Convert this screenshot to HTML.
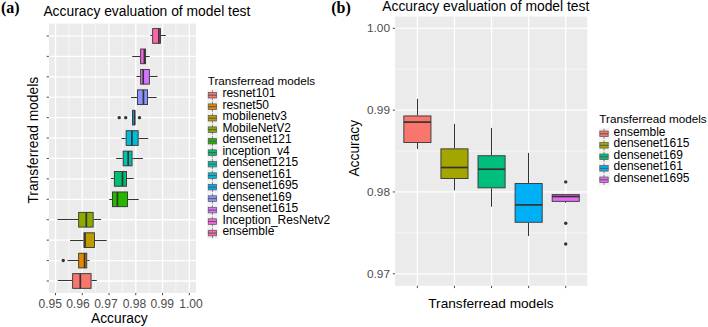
<!DOCTYPE html>
<html><head><meta charset="utf-8"><style>
html,body{margin:0;padding:0;background:#fff;}
body{width:708px;height:327px;overflow:hidden;font-family:"Liberation Sans",sans-serif;}
svg{display:block;}
</style></head><body>
<svg width="708" height="327" viewBox="0 0 708 327">
<rect width="708" height="327" fill="#fff"/>
<rect x="48.9" y="23.6" width="147.10" height="269.30" fill="#EBEBEB"/>
<line x1="68.88" y1="23.6" x2="68.88" y2="292.9" stroke="#F6F6F6" stroke-width="1.0"/>
<line x1="95.64" y1="23.6" x2="95.64" y2="292.9" stroke="#F6F6F6" stroke-width="1.0"/>
<line x1="122.40" y1="23.6" x2="122.40" y2="292.9" stroke="#F6F6F6" stroke-width="1.0"/>
<line x1="149.16" y1="23.6" x2="149.16" y2="292.9" stroke="#F6F6F6" stroke-width="1.0"/>
<line x1="175.92" y1="23.6" x2="175.92" y2="292.9" stroke="#F6F6F6" stroke-width="1.0"/>
<line x1="48.9" y1="35.95" x2="196.0" y2="35.95" stroke="#FFFFFF" stroke-width="1.3"/>
<line x1="48.9" y1="56.37" x2="196.0" y2="56.37" stroke="#FFFFFF" stroke-width="1.3"/>
<line x1="48.9" y1="76.79" x2="196.0" y2="76.79" stroke="#FFFFFF" stroke-width="1.3"/>
<line x1="48.9" y1="97.21" x2="196.0" y2="97.21" stroke="#FFFFFF" stroke-width="1.3"/>
<line x1="48.9" y1="117.63" x2="196.0" y2="117.63" stroke="#FFFFFF" stroke-width="1.3"/>
<line x1="48.9" y1="138.05" x2="196.0" y2="138.05" stroke="#FFFFFF" stroke-width="1.3"/>
<line x1="48.9" y1="158.47" x2="196.0" y2="158.47" stroke="#FFFFFF" stroke-width="1.3"/>
<line x1="48.9" y1="178.89" x2="196.0" y2="178.89" stroke="#FFFFFF" stroke-width="1.3"/>
<line x1="48.9" y1="199.31" x2="196.0" y2="199.31" stroke="#FFFFFF" stroke-width="1.3"/>
<line x1="48.9" y1="219.73" x2="196.0" y2="219.73" stroke="#FFFFFF" stroke-width="1.3"/>
<line x1="48.9" y1="240.15" x2="196.0" y2="240.15" stroke="#FFFFFF" stroke-width="1.3"/>
<line x1="48.9" y1="260.57" x2="196.0" y2="260.57" stroke="#FFFFFF" stroke-width="1.3"/>
<line x1="48.9" y1="280.99" x2="196.0" y2="280.99" stroke="#FFFFFF" stroke-width="1.3"/>
<line x1="55.50" y1="23.6" x2="55.50" y2="292.9" stroke="#FFFFFF" stroke-width="1.3"/>
<line x1="82.26" y1="23.6" x2="82.26" y2="292.9" stroke="#FFFFFF" stroke-width="1.3"/>
<line x1="109.02" y1="23.6" x2="109.02" y2="292.9" stroke="#FFFFFF" stroke-width="1.3"/>
<line x1="135.78" y1="23.6" x2="135.78" y2="292.9" stroke="#FFFFFF" stroke-width="1.3"/>
<line x1="162.54" y1="23.6" x2="162.54" y2="292.9" stroke="#FFFFFF" stroke-width="1.3"/>
<line x1="189.30" y1="23.6" x2="189.30" y2="292.9" stroke="#FFFFFF" stroke-width="1.3"/>
<line x1="150.3" y1="35.50" x2="152.2" y2="35.50" stroke="#333333" stroke-width="1"/>
<line x1="161.0" y1="35.50" x2="165.8" y2="35.50" stroke="#333333" stroke-width="1"/>
<rect x="152.65" y="28.60" width="7.90" height="14.70" fill="#FF65AC" stroke="#333333" stroke-width="0.9"/>
<line x1="158.9" y1="28.60" x2="158.9" y2="43.30" stroke="#333333" stroke-width="1.7"/>
<line x1="132.2" y1="56.50" x2="140.2" y2="56.50" stroke="#333333" stroke-width="1"/>
<line x1="145.9" y1="56.50" x2="149.7" y2="56.50" stroke="#333333" stroke-width="1"/>
<rect x="140.65" y="49.02" width="4.80" height="14.70" fill="#F962DD" stroke="#333333" stroke-width="0.9"/>
<line x1="144.4" y1="49.02" x2="144.4" y2="63.72" stroke="#333333" stroke-width="1.7"/>
<line x1="136.5" y1="76.50" x2="140.2" y2="76.50" stroke="#333333" stroke-width="1"/>
<line x1="149.8" y1="76.50" x2="157.6" y2="76.50" stroke="#333333" stroke-width="1"/>
<rect x="140.65" y="69.44" width="8.70" height="14.70" fill="#D575FE" stroke="#333333" stroke-width="0.9"/>
<line x1="143.2" y1="69.44" x2="143.2" y2="84.14" stroke="#333333" stroke-width="1.7"/>
<line x1="131.0" y1="97.50" x2="137.1" y2="97.50" stroke="#333333" stroke-width="1"/>
<line x1="148.0" y1="97.50" x2="156.7" y2="97.50" stroke="#333333" stroke-width="1"/>
<rect x="137.55" y="89.86" width="10.00" height="14.70" fill="#8B93FF" stroke="#333333" stroke-width="0.9"/>
<line x1="143.4" y1="89.86" x2="143.4" y2="104.56" stroke="#333333" stroke-width="1.7"/>
<line x1="133.6" y1="117.50" x2="132.1" y2="117.50" stroke="#333333" stroke-width="1"/>
<line x1="135.2" y1="117.50" x2="133.6" y2="117.50" stroke="#333333" stroke-width="1"/>
<rect x="132.55" y="110.28" width="2.20" height="14.70" fill="#00ACFC" stroke="#333333" stroke-width="0.9"/>
<line x1="134.6" y1="110.28" x2="134.6" y2="124.98" stroke="#333333" stroke-width="1.7"/>
<circle cx="119.2" cy="117.63" r="1.7" fill="#333333"/>
<circle cx="125.7" cy="117.63" r="1.7" fill="#333333"/>
<circle cx="139.5" cy="117.63" r="1.7" fill="#333333"/>
<line x1="121.5" y1="138.50" x2="125.7" y2="138.50" stroke="#333333" stroke-width="1"/>
<line x1="138.6" y1="138.50" x2="148.2" y2="138.50" stroke="#333333" stroke-width="1"/>
<rect x="126.15" y="130.70" width="12.00" height="14.70" fill="#00BBDA" stroke="#333333" stroke-width="0.9"/>
<line x1="131.9" y1="130.70" x2="131.9" y2="145.40" stroke="#333333" stroke-width="1.7"/>
<line x1="116.2" y1="158.50" x2="122.7" y2="158.50" stroke="#333333" stroke-width="1"/>
<line x1="132.5" y1="158.50" x2="142.9" y2="158.50" stroke="#333333" stroke-width="1"/>
<rect x="123.15" y="151.12" width="8.90" height="14.70" fill="#00C1AB" stroke="#333333" stroke-width="0.9"/>
<line x1="128.2" y1="151.12" x2="128.2" y2="165.82" stroke="#333333" stroke-width="1.7"/>
<line x1="110.9" y1="178.50" x2="113.9" y2="178.50" stroke="#333333" stroke-width="1"/>
<line x1="127.0" y1="178.50" x2="133.7" y2="178.50" stroke="#333333" stroke-width="1"/>
<rect x="114.35" y="171.54" width="12.20" height="14.70" fill="#00BE70" stroke="#333333" stroke-width="0.9"/>
<line x1="122.5" y1="171.54" x2="122.5" y2="186.24" stroke="#333333" stroke-width="1.7"/>
<line x1="109.2" y1="199.50" x2="112.0" y2="199.50" stroke="#333333" stroke-width="1"/>
<line x1="127.9" y1="199.50" x2="138.8" y2="199.50" stroke="#333333" stroke-width="1"/>
<rect x="112.45" y="191.96" width="15.00" height="14.70" fill="#24B700" stroke="#333333" stroke-width="0.9"/>
<line x1="117.4" y1="191.96" x2="117.4" y2="206.66" stroke="#333333" stroke-width="1.7"/>
<line x1="57.4" y1="219.50" x2="78.2" y2="219.50" stroke="#333333" stroke-width="1"/>
<line x1="93.6" y1="219.50" x2="101.1" y2="219.50" stroke="#333333" stroke-width="1"/>
<rect x="78.65" y="212.38" width="14.50" height="14.70" fill="#8CAB00" stroke="#333333" stroke-width="0.9"/>
<line x1="86.3" y1="212.38" x2="86.3" y2="227.08" stroke="#333333" stroke-width="1.7"/>
<line x1="70.1" y1="240.50" x2="83.5" y2="240.50" stroke="#333333" stroke-width="1"/>
<line x1="94.9" y1="240.50" x2="106.7" y2="240.50" stroke="#333333" stroke-width="1"/>
<rect x="83.95" y="232.80" width="10.50" height="14.70" fill="#BE9C00" stroke="#333333" stroke-width="0.9"/>
<line x1="85.0" y1="232.80" x2="85.0" y2="247.50" stroke="#333333" stroke-width="1.7"/>
<line x1="67.5" y1="260.50" x2="78.2" y2="260.50" stroke="#333333" stroke-width="1"/>
<line x1="87.2" y1="260.50" x2="89.5" y2="260.50" stroke="#333333" stroke-width="1"/>
<rect x="78.65" y="253.22" width="8.10" height="14.70" fill="#E18A00" stroke="#333333" stroke-width="0.9"/>
<line x1="84.6" y1="253.22" x2="84.6" y2="267.92" stroke="#333333" stroke-width="1.7"/>
<circle cx="63.2" cy="260.57" r="1.7" fill="#333333"/>
<line x1="57.8" y1="280.50" x2="72.2" y2="280.50" stroke="#333333" stroke-width="1"/>
<line x1="91.5" y1="280.50" x2="96.8" y2="280.50" stroke="#333333" stroke-width="1"/>
<rect x="72.65" y="273.64" width="18.40" height="14.70" fill="#F8766D" stroke="#333333" stroke-width="0.9"/>
<line x1="80.3" y1="273.64" x2="80.3" y2="288.34" stroke="#333333" stroke-width="1.7"/>
<line x1="46.699999999999996" y1="35.95" x2="48.9" y2="35.95" stroke="#333333" stroke-width="0.9"/>
<line x1="46.699999999999996" y1="56.37" x2="48.9" y2="56.37" stroke="#333333" stroke-width="0.9"/>
<line x1="46.699999999999996" y1="76.79" x2="48.9" y2="76.79" stroke="#333333" stroke-width="0.9"/>
<line x1="46.699999999999996" y1="97.21" x2="48.9" y2="97.21" stroke="#333333" stroke-width="0.9"/>
<line x1="46.699999999999996" y1="117.63" x2="48.9" y2="117.63" stroke="#333333" stroke-width="0.9"/>
<line x1="46.699999999999996" y1="138.05" x2="48.9" y2="138.05" stroke="#333333" stroke-width="0.9"/>
<line x1="46.699999999999996" y1="158.47" x2="48.9" y2="158.47" stroke="#333333" stroke-width="0.9"/>
<line x1="46.699999999999996" y1="178.89" x2="48.9" y2="178.89" stroke="#333333" stroke-width="0.9"/>
<line x1="46.699999999999996" y1="199.31" x2="48.9" y2="199.31" stroke="#333333" stroke-width="0.9"/>
<line x1="46.699999999999996" y1="219.73" x2="48.9" y2="219.73" stroke="#333333" stroke-width="0.9"/>
<line x1="46.699999999999996" y1="240.15" x2="48.9" y2="240.15" stroke="#333333" stroke-width="0.9"/>
<line x1="46.699999999999996" y1="260.57" x2="48.9" y2="260.57" stroke="#333333" stroke-width="0.9"/>
<line x1="46.699999999999996" y1="280.99" x2="48.9" y2="280.99" stroke="#333333" stroke-width="0.9"/>
<line x1="55.50" y1="292.9" x2="55.50" y2="295.2" stroke="#333333" stroke-width="0.9"/>
<line x1="82.26" y1="292.9" x2="82.26" y2="295.2" stroke="#333333" stroke-width="0.9"/>
<line x1="109.02" y1="292.9" x2="109.02" y2="295.2" stroke="#333333" stroke-width="0.9"/>
<line x1="135.78" y1="292.9" x2="135.78" y2="295.2" stroke="#333333" stroke-width="0.9"/>
<line x1="162.54" y1="292.9" x2="162.54" y2="295.2" stroke="#333333" stroke-width="0.9"/>
<line x1="189.30" y1="292.9" x2="189.30" y2="295.2" stroke="#333333" stroke-width="0.9"/>
<text x="50.3" y="307.7" text-anchor="middle" font-family="Liberation Sans, sans-serif" font-size="12.1" fill="#4D4D4D">0.95</text>
<text x="77.9" y="307.7" text-anchor="middle" font-family="Liberation Sans, sans-serif" font-size="12.1" fill="#4D4D4D">0.96</text>
<text x="105.9" y="307.7" text-anchor="middle" font-family="Liberation Sans, sans-serif" font-size="12.1" fill="#4D4D4D">0.97</text>
<text x="134.4" y="307.7" text-anchor="middle" font-family="Liberation Sans, sans-serif" font-size="12.1" fill="#4D4D4D">0.98</text>
<text x="162.3" y="307.7" text-anchor="middle" font-family="Liberation Sans, sans-serif" font-size="12.1" fill="#4D4D4D">0.99</text>
<text x="191.0" y="307.7" text-anchor="middle" font-family="Liberation Sans, sans-serif" font-size="12.1" fill="#4D4D4D">1.00</text>
<text x="91.0" y="322.7" font-family="Liberation Sans, sans-serif" font-size="13.8" fill="#000">Accuracy</text>
<text transform="translate(38.2,203.6) rotate(-90) scale(1,1.08)" font-family="Liberation Sans, sans-serif" font-size="13.8" fill="#000">Transferread models</text>
<text x="43.4" y="16.0" font-family="Liberation Sans, sans-serif" font-size="13.85" fill="#000">Accuracy evaluation of model test</text>
<text x="1.0" y="12.8" font-family="Liberation Serif, serif" font-weight="bold" font-size="16" fill="#000">(a)</text>
<text x="207.7" y="84.6" font-family="Liberation Sans, sans-serif" font-size="11.7" fill="#000">Transferread models</text>
<rect x="207.3" y="89.5" width="11" height="149.3" fill="#F2F2F2"/>
<line x1="212.40" y1="90.20" x2="212.40" y2="100.20" stroke="#555" stroke-width="0.7"/>
<rect x="208.20" y="92.40" width="8.4" height="5.6" fill="#F8766D" stroke="#555" stroke-width="0.7"/>
<line x1="208.20" y1="95.20" x2="216.60" y2="95.20" stroke="#555" stroke-width="1.0"/>
<text x="222.4" y="97.20" font-family="Liberation Sans, sans-serif" font-size="11.98" fill="#000">resnet101</text>
<line x1="212.40" y1="101.69" x2="212.40" y2="111.69" stroke="#555" stroke-width="0.7"/>
<rect x="208.20" y="103.89" width="8.4" height="5.6" fill="#E18A00" stroke="#555" stroke-width="0.7"/>
<line x1="208.20" y1="106.69" x2="216.60" y2="106.69" stroke="#555" stroke-width="1.0"/>
<text x="222.4" y="108.69" font-family="Liberation Sans, sans-serif" font-size="11.98" fill="#000">resnet50</text>
<line x1="212.40" y1="113.18" x2="212.40" y2="123.18" stroke="#555" stroke-width="0.7"/>
<rect x="208.20" y="115.38" width="8.4" height="5.6" fill="#BE9C00" stroke="#555" stroke-width="0.7"/>
<line x1="208.20" y1="118.18" x2="216.60" y2="118.18" stroke="#555" stroke-width="1.0"/>
<text x="222.4" y="120.18" font-family="Liberation Sans, sans-serif" font-size="11.98" fill="#000">mobilenetv3</text>
<line x1="212.40" y1="124.67" x2="212.40" y2="134.67" stroke="#555" stroke-width="0.7"/>
<rect x="208.20" y="126.87" width="8.4" height="5.6" fill="#8CAB00" stroke="#555" stroke-width="0.7"/>
<line x1="208.20" y1="129.67" x2="216.60" y2="129.67" stroke="#555" stroke-width="1.0"/>
<text x="222.4" y="131.67" font-family="Liberation Sans, sans-serif" font-size="11.98" fill="#000">MobileNetV2</text>
<line x1="212.40" y1="136.16" x2="212.40" y2="146.16" stroke="#555" stroke-width="0.7"/>
<rect x="208.20" y="138.36" width="8.4" height="5.6" fill="#24B700" stroke="#555" stroke-width="0.7"/>
<line x1="208.20" y1="141.16" x2="216.60" y2="141.16" stroke="#555" stroke-width="1.0"/>
<text x="222.4" y="143.16" font-family="Liberation Sans, sans-serif" font-size="11.98" fill="#000">densenet121</text>
<line x1="212.40" y1="147.65" x2="212.40" y2="157.65" stroke="#555" stroke-width="0.7"/>
<rect x="208.20" y="149.85" width="8.4" height="5.6" fill="#00BE70" stroke="#555" stroke-width="0.7"/>
<line x1="208.20" y1="152.65" x2="216.60" y2="152.65" stroke="#555" stroke-width="1.0"/>
<text x="222.4" y="154.65" font-family="Liberation Sans, sans-serif" font-size="11.98" fill="#000">inception_v4</text>
<line x1="212.40" y1="159.14" x2="212.40" y2="169.14" stroke="#555" stroke-width="0.7"/>
<rect x="208.20" y="161.34" width="8.4" height="5.6" fill="#00C1AB" stroke="#555" stroke-width="0.7"/>
<line x1="208.20" y1="164.14" x2="216.60" y2="164.14" stroke="#555" stroke-width="1.0"/>
<text x="222.4" y="166.14" font-family="Liberation Sans, sans-serif" font-size="11.98" fill="#000">densenet1215</text>
<line x1="212.40" y1="170.63" x2="212.40" y2="180.63" stroke="#555" stroke-width="0.7"/>
<rect x="208.20" y="172.83" width="8.4" height="5.6" fill="#00BBDA" stroke="#555" stroke-width="0.7"/>
<line x1="208.20" y1="175.63" x2="216.60" y2="175.63" stroke="#555" stroke-width="1.0"/>
<text x="222.4" y="177.63" font-family="Liberation Sans, sans-serif" font-size="11.98" fill="#000">densenet161</text>
<line x1="212.40" y1="182.12" x2="212.40" y2="192.12" stroke="#555" stroke-width="0.7"/>
<rect x="208.20" y="184.32" width="8.4" height="5.6" fill="#00ACFC" stroke="#555" stroke-width="0.7"/>
<line x1="208.20" y1="187.12" x2="216.60" y2="187.12" stroke="#555" stroke-width="1.0"/>
<text x="222.4" y="189.12" font-family="Liberation Sans, sans-serif" font-size="11.98" fill="#000">densenet1695</text>
<line x1="212.40" y1="193.61" x2="212.40" y2="203.61" stroke="#555" stroke-width="0.7"/>
<rect x="208.20" y="195.81" width="8.4" height="5.6" fill="#8B93FF" stroke="#555" stroke-width="0.7"/>
<line x1="208.20" y1="198.61" x2="216.60" y2="198.61" stroke="#555" stroke-width="1.0"/>
<text x="222.4" y="200.61" font-family="Liberation Sans, sans-serif" font-size="11.98" fill="#000">densenet169</text>
<line x1="212.40" y1="205.10" x2="212.40" y2="215.10" stroke="#555" stroke-width="0.7"/>
<rect x="208.20" y="207.30" width="8.4" height="5.6" fill="#D575FE" stroke="#555" stroke-width="0.7"/>
<line x1="208.20" y1="210.10" x2="216.60" y2="210.10" stroke="#555" stroke-width="1.0"/>
<text x="222.4" y="212.10" font-family="Liberation Sans, sans-serif" font-size="11.98" fill="#000">densenet1615</text>
<line x1="212.40" y1="216.59" x2="212.40" y2="226.59" stroke="#555" stroke-width="0.7"/>
<rect x="208.20" y="218.79" width="8.4" height="5.6" fill="#F962DD" stroke="#555" stroke-width="0.7"/>
<line x1="208.20" y1="221.59" x2="216.60" y2="221.59" stroke="#555" stroke-width="1.0"/>
<text x="222.4" y="223.59" font-family="Liberation Sans, sans-serif" font-size="11.98" fill="#000">Inception_ResNetv2</text>
<line x1="212.40" y1="228.08" x2="212.40" y2="238.08" stroke="#555" stroke-width="0.7"/>
<rect x="208.20" y="230.28" width="8.4" height="5.6" fill="#FF65AC" stroke="#555" stroke-width="0.7"/>
<line x1="208.20" y1="233.08" x2="216.60" y2="233.08" stroke="#555" stroke-width="1.0"/>
<text x="222.4" y="235.08" font-family="Liberation Sans, sans-serif" font-size="11.98" fill="#000">ensemble</text>
<rect x="395.0" y="16.5" width="192.30" height="269.30" fill="#EBEBEB"/>
<line x1="395.0" y1="69.22" x2="587.3" y2="69.22" stroke="#F6F6F6" stroke-width="1.0"/>
<line x1="395.0" y1="151.05" x2="587.3" y2="151.05" stroke="#F6F6F6" stroke-width="1.0"/>
<line x1="395.0" y1="232.88" x2="587.3" y2="232.88" stroke="#F6F6F6" stroke-width="1.0"/>
<line x1="395.0" y1="28.30" x2="587.3" y2="28.30" stroke="#FFFFFF" stroke-width="1.3"/>
<line x1="395.0" y1="110.13" x2="587.3" y2="110.13" stroke="#FFFFFF" stroke-width="1.3"/>
<line x1="395.0" y1="191.96" x2="587.3" y2="191.96" stroke="#FFFFFF" stroke-width="1.3"/>
<line x1="395.0" y1="273.79" x2="587.3" y2="273.79" stroke="#FFFFFF" stroke-width="1.3"/>
<line x1="417.40" y1="16.5" x2="417.40" y2="285.8" stroke="#FFFFFF" stroke-width="1.3"/>
<line x1="454.48" y1="16.5" x2="454.48" y2="285.8" stroke="#FFFFFF" stroke-width="1.3"/>
<line x1="491.56" y1="16.5" x2="491.56" y2="285.8" stroke="#FFFFFF" stroke-width="1.3"/>
<line x1="528.64" y1="16.5" x2="528.64" y2="285.8" stroke="#FFFFFF" stroke-width="1.3"/>
<line x1="565.72" y1="16.5" x2="565.72" y2="285.8" stroke="#FFFFFF" stroke-width="1.3"/>
<line x1="417.50" y1="98.8" x2="417.50" y2="115.5" stroke="#333333" stroke-width="1"/>
<line x1="417.50" y1="142.9" x2="417.50" y2="149.0" stroke="#333333" stroke-width="1"/>
<rect x="403.85" y="115.95" width="27.10" height="26.50" fill="#F8766D" stroke="#333333" stroke-width="0.9"/>
<line x1="403.85" y1="122.1" x2="430.95" y2="122.1" stroke="#333333" stroke-width="1.7"/>
<line x1="454.50" y1="123.9" x2="454.50" y2="148.4" stroke="#333333" stroke-width="1"/>
<line x1="454.50" y1="179.0" x2="454.50" y2="190.3" stroke="#333333" stroke-width="1"/>
<rect x="440.93" y="148.85" width="27.10" height="29.70" fill="#A3A500" stroke="#333333" stroke-width="0.9"/>
<line x1="440.93" y1="167.5" x2="468.03" y2="167.5" stroke="#333333" stroke-width="1.7"/>
<line x1="491.50" y1="127.9" x2="491.50" y2="155.3" stroke="#333333" stroke-width="1"/>
<line x1="491.50" y1="188.3" x2="491.50" y2="206.7" stroke="#333333" stroke-width="1"/>
<rect x="478.01" y="155.75" width="27.10" height="32.10" fill="#00BF7D" stroke="#333333" stroke-width="0.9"/>
<line x1="478.01" y1="169.2" x2="505.11" y2="169.2" stroke="#333333" stroke-width="1.7"/>
<line x1="528.50" y1="152.9" x2="528.50" y2="183.1" stroke="#333333" stroke-width="1"/>
<line x1="528.50" y1="222.7" x2="528.50" y2="236.0" stroke="#333333" stroke-width="1"/>
<rect x="515.09" y="183.55" width="27.10" height="38.70" fill="#00B0F6" stroke="#333333" stroke-width="0.9"/>
<line x1="515.09" y1="204.9" x2="542.19" y2="204.9" stroke="#333333" stroke-width="1.7"/>
<line x1="565.50" y1="201.8" x2="565.50" y2="202.8" stroke="#333333" stroke-width="1"/>
<rect x="552.17" y="194.65" width="27.10" height="6.70" fill="#E76BF3" stroke="#333333" stroke-width="0.9"/>
<line x1="552.17" y1="196.5" x2="579.27" y2="196.5" stroke="#333333" stroke-width="1.7"/>
<circle cx="565.72" cy="181.9" r="1.7" fill="#333333"/>
<circle cx="565.72" cy="223.2" r="1.7" fill="#333333"/>
<circle cx="565.72" cy="244.0" r="1.7" fill="#333333"/>
<line x1="392.8" y1="28.30" x2="395.0" y2="28.30" stroke="#333333" stroke-width="0.9"/>
<text x="390.0" y="32.40" text-anchor="end" font-family="Liberation Sans, sans-serif" font-size="11.8" fill="#4D4D4D">1.00</text>
<line x1="392.8" y1="110.13" x2="395.0" y2="110.13" stroke="#333333" stroke-width="0.9"/>
<text x="390.0" y="114.23" text-anchor="end" font-family="Liberation Sans, sans-serif" font-size="11.8" fill="#4D4D4D">0.99</text>
<line x1="392.8" y1="191.96" x2="395.0" y2="191.96" stroke="#333333" stroke-width="0.9"/>
<text x="390.0" y="196.06" text-anchor="end" font-family="Liberation Sans, sans-serif" font-size="11.8" fill="#4D4D4D">0.98</text>
<line x1="392.8" y1="273.79" x2="395.0" y2="273.79" stroke="#333333" stroke-width="0.9"/>
<text x="390.0" y="277.89" text-anchor="end" font-family="Liberation Sans, sans-serif" font-size="11.8" fill="#4D4D4D">0.97</text>
<line x1="417.40" y1="285.8" x2="417.40" y2="288.1" stroke="#333333" stroke-width="0.9"/>
<line x1="454.48" y1="285.8" x2="454.48" y2="288.1" stroke="#333333" stroke-width="0.9"/>
<line x1="491.56" y1="285.8" x2="491.56" y2="288.1" stroke="#333333" stroke-width="0.9"/>
<line x1="528.64" y1="285.8" x2="528.64" y2="288.1" stroke="#333333" stroke-width="0.9"/>
<line x1="565.72" y1="285.8" x2="565.72" y2="288.1" stroke="#333333" stroke-width="0.9"/>
<text x="428.3" y="308.4" font-family="Liberation Sans, sans-serif" font-size="13.65" fill="#000">Transferread models</text>
<text transform="translate(358.5,176.6) rotate(-90) scale(1,1.1)" font-family="Liberation Sans, sans-serif" font-size="13.8" fill="#000">Accuracy</text>
<text x="382.3" y="11.1" font-family="Liberation Sans, sans-serif" font-size="13.85" fill="#000">Accuracy evaluation of model test</text>
<text x="331.2" y="12.8" font-family="Liberation Serif, serif" font-weight="bold" font-size="16" fill="#000">(b)</text>
<text x="599.3" y="123.2" font-family="Liberation Sans, sans-serif" font-size="11.7" fill="#000">Transferread models</text>
<rect x="598.9" y="128.0" width="11" height="57.5" fill="#F2F2F2"/>
<line x1="604.00" y1="128.80" x2="604.00" y2="138.80" stroke="#555" stroke-width="0.7"/>
<rect x="599.80" y="131.00" width="8.4" height="5.6" fill="#F8766D" stroke="#555" stroke-width="0.7"/>
<line x1="599.80" y1="133.80" x2="608.20" y2="133.80" stroke="#555" stroke-width="1.0"/>
<text x="613.6" y="135.80" font-family="Liberation Sans, sans-serif" font-size="11.98" fill="#000">ensemble</text>
<line x1="604.00" y1="140.30" x2="604.00" y2="150.30" stroke="#555" stroke-width="0.7"/>
<rect x="599.80" y="142.50" width="8.4" height="5.6" fill="#A3A500" stroke="#555" stroke-width="0.7"/>
<line x1="599.80" y1="145.30" x2="608.20" y2="145.30" stroke="#555" stroke-width="1.0"/>
<text x="613.6" y="147.30" font-family="Liberation Sans, sans-serif" font-size="11.98" fill="#000">densenet1615</text>
<line x1="604.00" y1="151.80" x2="604.00" y2="161.80" stroke="#555" stroke-width="0.7"/>
<rect x="599.80" y="154.00" width="8.4" height="5.6" fill="#00BF7D" stroke="#555" stroke-width="0.7"/>
<line x1="599.80" y1="156.80" x2="608.20" y2="156.80" stroke="#555" stroke-width="1.0"/>
<text x="613.6" y="158.80" font-family="Liberation Sans, sans-serif" font-size="11.98" fill="#000">densenet169</text>
<line x1="604.00" y1="163.30" x2="604.00" y2="173.30" stroke="#555" stroke-width="0.7"/>
<rect x="599.80" y="165.50" width="8.4" height="5.6" fill="#00B0F6" stroke="#555" stroke-width="0.7"/>
<line x1="599.80" y1="168.30" x2="608.20" y2="168.30" stroke="#555" stroke-width="1.0"/>
<text x="613.6" y="170.30" font-family="Liberation Sans, sans-serif" font-size="11.98" fill="#000">densenet161</text>
<line x1="604.00" y1="174.80" x2="604.00" y2="184.80" stroke="#555" stroke-width="0.7"/>
<rect x="599.80" y="177.00" width="8.4" height="5.6" fill="#E76BF3" stroke="#555" stroke-width="0.7"/>
<line x1="599.80" y1="179.80" x2="608.20" y2="179.80" stroke="#555" stroke-width="1.0"/>
<text x="613.6" y="181.80" font-family="Liberation Sans, sans-serif" font-size="11.98" fill="#000">densenet1695</text>
</svg>
</body></html>
